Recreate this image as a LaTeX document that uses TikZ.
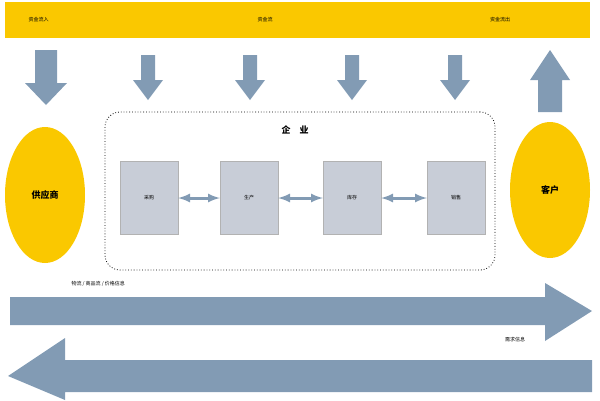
\documentclass[tikz,border=0pt]{standalone}
\usepackage{fontspec}
\setmainfont{Noto Sans CJK SC}
\usetikzlibrary{positioning,shapes.geometric}
\definecolor{gold}{RGB}{250,200,0}
\definecolor{steel}{RGB}{130,155,180}
\definecolor{boxgray}{RGB}{200,205,215}
\tikzset{
  part/.style={draw=gray!60, fill=boxgray, minimum width=58pt, minimum height=73pt, font=\tiny},
  party/.style={ellipse, fill=gold, minimum width=80pt, minimum height=136pt, font=\bfseries\small},
  twoway/.style={<->, >=latex, steel, line width=3pt}
}
% vertical arrow: x, shaft end, head base, tip, half shaft, half head
\newcommand{\vflow}[6]{\fill[steel] (#1-#5,#2) -- (#1+#5,#2) -- (#1+#5,#3) -- (#1+#6,#3) -- (#1,#4) -- (#1-#6,#3) -- (#1-#5,#3) -- cycle;}
\begin{document}
\begin{tikzpicture}[x=1pt,y=-1pt]
    \useasboundingbox (0,0) rectangle (600,400);
    \fill[gold] (5,2) rectangle (590,38);
    \node[font=\tiny, right] (in) at (25,20) {资金流入};
    \node[font=\tiny] (flow) at (265,20) {资金流};
    \node[font=\tiny] (out) at (500,20) {资金流出};

    \vflow{46}{50}{83}{105}{11}{21}
    \foreach \x in {148,250,352,455} {
        \vflow{\x}{55}{80}{100}{7}{15}
    }
    \vflow{550}{112}{80}{50}{12}{20}

    \node[party] (sup) at (45,195) {供应商};
    \node[party] (cust) at (550,190) {客户};

    \node[draw, dotted, thick, rounded corners=15pt, minimum width=390pt, minimum height=158pt] (firm) at (300,191) {};
    \node[font=\bfseries\small] (title) at (295,130) {企\quad 业};

    \node[part] (buy) at (149,198) {采购};
    \node[part] (make) at (249,198) {生产};
    \node[part] (stock) at (352,198) {库存};
    \node[part] (sell) at (456,198) {销售};
    \draw[twoway] (buy) -- (make);
    \draw[twoway] (make) -- (stock);
    \draw[twoway] (stock) -- (sell);

    \fill[steel] (10,297) -- (545,297) -- (545,283) -- (592,311) -- (545,341) -- (545,325) -- (10,325) -- cycle;
    \fill[steel] (592,360) -- (65,360) -- (65,338) -- (8,376) -- (65,400) -- (65,392) -- (592,392) -- cycle;
    \node[font=\tiny, right] (goods) at (68,284) {物流\ /\ 商品流\ /\ 价格信息};
    \node[font=\tiny] (need) at (515,340) {需求信息};
\end{tikzpicture}
\end{document}
